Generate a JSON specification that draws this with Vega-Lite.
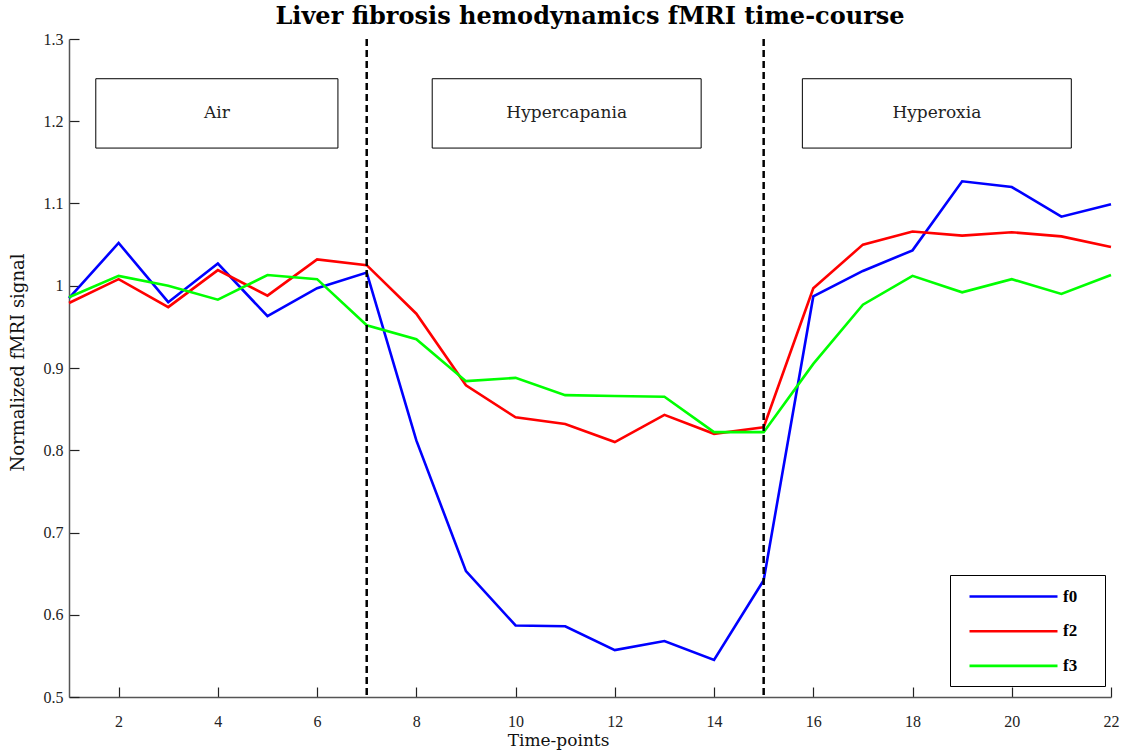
{
  "$schema": "https://vega.github.io/schema/vega-lite/v6.json",
  "width": 1042,
  "height": 658,
  "autosize": {"type": "none"},
  "padding": {"left": 69, "top": 39, "right": 14, "bottom": 56},
  "background": "white",
  "title": {
    "text": "Liver fibrosis hemodynamics fMRI time-course",
    "font": "DejaVu Serif",
    "fontSize": 24,
    "fontWeight": "bold",
    "color": "#000000",
    "anchor": "middle",
    "baseline": "alphabetic",
    "offset": 8,
    "dy": 24.7
  },
  "config": {
    "view": {"stroke": null},
    "font": "Liberation Serif",
    "axis": {
      "labelFont": "Liberation Serif",
      "labelFontSize": 16,
      "labelColor": "#222222",
      "titleFont": "DejaVu Serif",
      "titleFontSize": 17,
      "titleFontWeight": "normal",
      "titleColor": "#111111",
      "domainColor": "#555555",
      "domainWidth": 1.5,
      "tickColor": "#222222",
      "tickWidth": 1.2,
      "tickSize": -10,
      "grid": false
    }
  },
  "datasets": {
    "series": [
      {"t": 1, "series": "f0", "value": 0.985},
      {"t": 2, "series": "f0", "value": 1.052},
      {"t": 3, "series": "f0", "value": 0.980},
      {"t": 4, "series": "f0", "value": 1.027},
      {"t": 5, "series": "f0", "value": 0.963},
      {"t": 6, "series": "f0", "value": 0.997},
      {"t": 7, "series": "f0", "value": 1.016},
      {"t": 8, "series": "f0", "value": 0.812},
      {"t": 9, "series": "f0", "value": 0.653},
      {"t": 10, "series": "f0", "value": 0.587},
      {"t": 11, "series": "f0", "value": 0.586},
      {"t": 12, "series": "f0", "value": 0.557},
      {"t": 13, "series": "f0", "value": 0.568},
      {"t": 14, "series": "f0", "value": 0.545},
      {"t": 15, "series": "f0", "value": 0.642},
      {"t": 16, "series": "f0", "value": 0.987},
      {"t": 17, "series": "f0", "value": 1.018},
      {"t": 18, "series": "f0", "value": 1.043},
      {"t": 19, "series": "f0", "value": 1.127},
      {"t": 20, "series": "f0", "value": 1.120},
      {"t": 21, "series": "f0", "value": 1.084},
      {"t": 22, "series": "f0", "value": 1.099},
      {"t": 1, "series": "f2", "value": 0.979},
      {"t": 2, "series": "f2", "value": 1.008},
      {"t": 3, "series": "f2", "value": 0.974},
      {"t": 4, "series": "f2", "value": 1.019},
      {"t": 5, "series": "f2", "value": 0.988},
      {"t": 6, "series": "f2", "value": 1.032},
      {"t": 7, "series": "f2", "value": 1.025},
      {"t": 8, "series": "f2", "value": 0.966},
      {"t": 9, "series": "f2", "value": 0.879},
      {"t": 10, "series": "f2", "value": 0.840},
      {"t": 11, "series": "f2", "value": 0.832},
      {"t": 12, "series": "f2", "value": 0.810},
      {"t": 13, "series": "f2", "value": 0.843},
      {"t": 14, "series": "f2", "value": 0.820},
      {"t": 15, "series": "f2", "value": 0.828},
      {"t": 16, "series": "f2", "value": 0.997},
      {"t": 17, "series": "f2", "value": 1.050},
      {"t": 18, "series": "f2", "value": 1.066},
      {"t": 19, "series": "f2", "value": 1.061},
      {"t": 20, "series": "f2", "value": 1.065},
      {"t": 21, "series": "f2", "value": 1.060},
      {"t": 22, "series": "f2", "value": 1.047},
      {"t": 1, "series": "f3", "value": 0.986},
      {"t": 2, "series": "f3", "value": 1.012},
      {"t": 3, "series": "f3", "value": 1.000},
      {"t": 4, "series": "f3", "value": 0.983},
      {"t": 5, "series": "f3", "value": 1.013},
      {"t": 6, "series": "f3", "value": 1.008},
      {"t": 7, "series": "f3", "value": 0.952},
      {"t": 8, "series": "f3", "value": 0.935},
      {"t": 9, "series": "f3", "value": 0.884},
      {"t": 10, "series": "f3", "value": 0.888},
      {"t": 11, "series": "f3", "value": 0.867},
      {"t": 12, "series": "f3", "value": 0.866},
      {"t": 13, "series": "f3", "value": 0.865},
      {"t": 14, "series": "f3", "value": 0.822},
      {"t": 15, "series": "f3", "value": 0.822},
      {"t": 16, "series": "f3", "value": 0.905},
      {"t": 17, "series": "f3", "value": 0.977},
      {"t": 18, "series": "f3", "value": 1.012},
      {"t": 19, "series": "f3", "value": 0.992},
      {"t": 20, "series": "f3", "value": 1.008},
      {"t": 21, "series": "f3", "value": 0.990},
      {"t": 22, "series": "f3", "value": 1.013}
    ],
    "phases": [
      {"phase": "Air", "x1": 1.54, "x2": 6.42, "y1": 1.1674, "y2": 1.2517, "xc": 3.98, "yc": 1.2095},
      {"phase": "Hypercapania", "x1": 8.32, "x2": 13.74, "y1": 1.1674, "y2": 1.2517, "xc": 11.03, "yc": 1.2095},
      {"phase": "Hyperoxia", "x1": 15.78, "x2": 21.2, "y1": 1.1674, "y2": 1.2517, "xc": 18.49, "yc": 1.2095}
    ],
    "boundaries": [
      {"t": 7},
      {"t": 15}
    ]
  },
  "layer": [
    {
      "data": {"name": "phases"},
      "mark": {"type": "rect", "fill": "white", "stroke": "#000000", "strokeWidth": 1},
      "encoding": {
        "x": {"field": "x1", "type": "quantitative", "scale": {"domain": [1, 22], "nice": false, "zero": false},
          "axis": {"title": "Time-points", "values": [2, 4, 6, 8, 10, 12, 14, 16, 18, 20, 22], "format": "d", "labelPadding": 26, "titleX": 489, "titleY": 48, "titleBaseline": "alphabetic", "titleAnchor": "start", "titleAlign": "center", "labelFlush": false}},
        "x2": {"field": "x2"},
        "y": {"field": "y1", "type": "quantitative", "scale": {"domain": [0.5, 1.3], "nice": false, "zero": false},
          "axis": {"title": "Normalized fMRI signal", "titleFontSize": 18, "values": [0.5, 0.6, 0.7, 0.8, 0.9, 1, 1.1, 1.2, 1.3], "format": "~g", "labelPadding": 16, "titleX": -46, "titleY": 323, "titleAngle": 270, "titleBaseline": "alphabetic", "titleAlign": "center", "labelFlush": false}},
        "y2": {"field": "y2"}
      }
    },
    {
      "data": {"name": "phases"},
      "mark": {"type": "text", "font": "DejaVu Serif", "fontSize": 17, "color": "#222222", "align": "center", "baseline": "middle"},
      "encoding": {
        "x": {"field": "xc", "type": "quantitative"},
        "y": {"field": "yc", "type": "quantitative"},
        "text": {"field": "phase"}
      }
    },
    {
      "data": {"name": "series"},
      "mark": {"type": "line", "strokeWidth": 2.6},
      "encoding": {
        "x": {"field": "t", "type": "quantitative"},
        "y": {"field": "value", "type": "quantitative"},
        "color": {
          "field": "series",
          "type": "nominal",
          "scale": {"domain": ["f0", "f2", "f3"], "range": ["#0000ff", "#ff0000", "#00ff00"]},
          "legend": {
            "title": null,
            "orient": "none",
            "legendX": 881,
            "legendY": 536,
            "symbolType": "M-5.5,0H5.5M9.18,0",
            "symbolSize": 256,
            "symbolStrokeWidth": 2.6,
            "symbolFillColor": "transparent",
            "labelFont": "Liberation Serif",
            "labelFontSize": 17,
            "labelFontWeight": "bold",
            "labelColor": "#000000",
            "strokeColor": "#000000",
            "fillColor": "white",
            "padding": 12,
            "rowPadding": 16.7,
            "encode": {
              "symbols": {"update": {"x": {"value": 51.5}}},
              "labels": {"update": {"x": {"value": 101}}}
            }
          }
        }
      }
    },
    {
      "data": {"name": "boundaries"},
      "mark": {"type": "rule", "strokeDash": [7, 4], "strokeWidth": 2.5, "color": "#000000"},
      "encoding": {
        "x": {"field": "t", "type": "quantitative"}
      }
    }
  ]
}
